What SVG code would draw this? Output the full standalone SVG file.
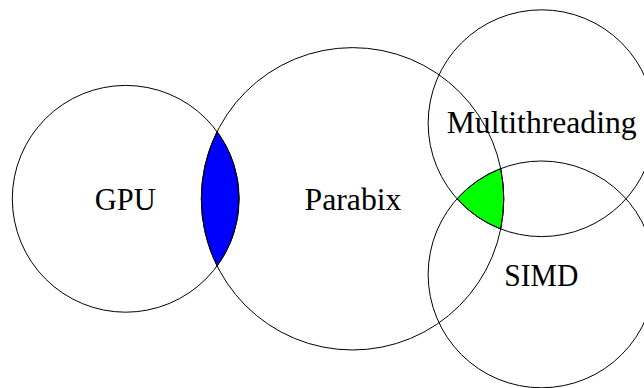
<svg xmlns="http://www.w3.org/2000/svg" width="644" height="388" viewBox="0 0 644 388">
  <style>
    .set { fill: none; stroke: #000; stroke-width: 1; }
    .label { font-family: "Liberation Serif", "DejaVu Serif", serif; font-size: 31px; fill: #000; text-anchor: middle; }
    .overlap { stroke: #000; stroke-width: 1; }
  </style>
  <rect width="644" height="388" fill="#fff"/>

  <!-- shaded overlaps, drawn beneath the set outlines -->
  <g id="overlaps">
    <!-- GPU ∩ Parabix -->
    <path id="gpu-parabix" class="overlap" fill="#0000ff"
          d="M 217.04 131.61 A 113.39 113.39 0 0 1 217.04 265.99 A 151.18 151.18 0 0 1 217.04 131.61 Z"/>
    <!-- Parabix ∩ Multithreading ∩ SIMD -->
    <path id="parabix-mt-simd" class="overlap" fill="#00ff00"
          d="M 457.02 198.8 A 113.39 113.39 0 0 1 500.70 168.6 A 151.18 151.18 0 0 1 500.70 229.0 A 113.39 113.39 0 0 1 457.02 198.8 Z"/>
  </g>

  <g id="gpu">
    <circle class="set" cx="125.7" cy="198.8" r="113.39"/>
    <text class="label" x="125.2" y="209.5" textLength="61" lengthAdjust="spacingAndGlyphs">GPU</text>
  </g>

  <g id="parabix">
    <circle class="set" cx="352.57" cy="198.8" r="151.18"/>
    <text class="label" x="353" y="209.5" textLength="97" lengthAdjust="spacingAndGlyphs">Parabix</text>
  </g>

  <g id="multithreading">
    <circle class="set" cx="541.54" cy="123.21" r="113.39"/>
    <text class="label" x="541.7" y="132.5" textLength="190" lengthAdjust="spacingAndGlyphs">Multithreading</text>
  </g>

  <g id="simd">
    <circle class="set" cx="541.54" cy="274.39" r="113.39"/>
    <text class="label" x="541.3" y="286" textLength="74" lengthAdjust="spacingAndGlyphs">SIMD</text>
  </g>

  <g id="connectors"/>
</svg>
